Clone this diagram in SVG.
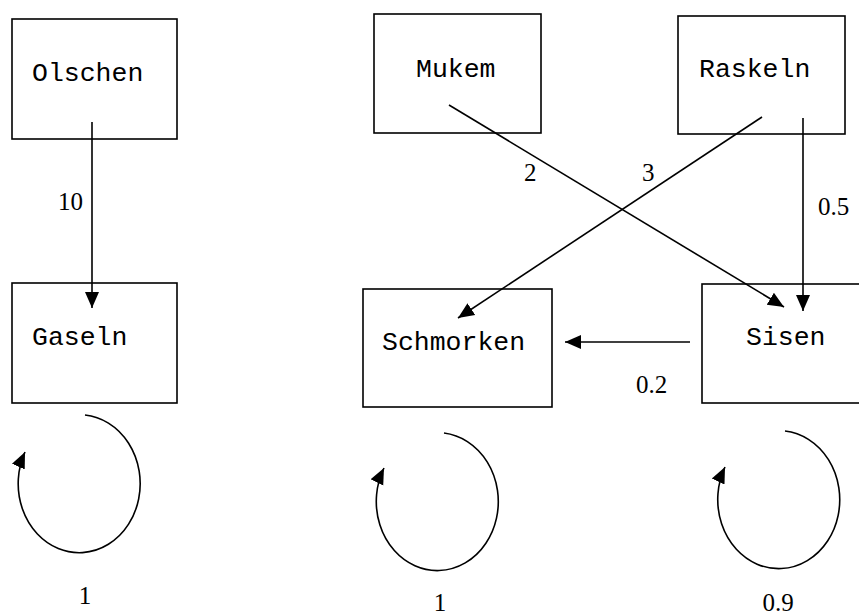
<svg xmlns="http://www.w3.org/2000/svg" width="859" height="615" viewBox="0 0 859 615">
  <style>
    .box { fill: #fff; stroke: #000; stroke-width: 1.6; }
    .name { font-family: "Liberation Mono", "Courier New", monospace; font-size: 26.5px; fill: #000; }
    .num { font-family: "Liberation Serif", "Times New Roman", serif; font-size: 25px; fill: #000; }
    .edge { fill: none; stroke: #000; stroke-width: 1.6; }
  </style>
  <defs>
    <marker id="arrow" markerUnits="userSpaceOnUse" markerWidth="16" markerHeight="16" viewBox="0 0 16 14" refX="16" refY="7" orient="auto">
      <path d="M0,0 L16,7 L0,14 z" fill="#000"/>
    </marker>
  </defs>
  <rect width="859" height="615" fill="#fff"/>

  <g id="node-olschen">
    <rect class="box" x="12" y="19" width="165" height="120"/>
    <text class="name" x="32" y="81">Olschen</text>
  </g>
  <g id="node-gaseln">
    <rect class="box" x="12" y="283" width="165" height="120"/>
    <text class="name" x="32" y="345">Gaseln</text>
  </g>
  <g id="node-mukem">
    <rect class="box" x="374" y="14" width="167" height="119"/>
    <text class="name" x="416" y="77">Mukem</text>
  </g>
  <g id="node-raskeln">
    <rect class="box" x="678" y="16" width="167" height="118"/>
    <text class="name" x="699" y="77">Raskeln</text>
  </g>
  <g id="node-schmorken">
    <rect class="box" x="363" y="289" width="189" height="118"/>
    <text class="name" x="382" y="350">Schmorken</text>
  </g>
  <g id="node-sisen">
    <rect class="box" x="702" y="284" width="170" height="119"/>
    <text class="name" x="746" y="345">Sisen</text>
  </g>

  <g id="connectors">
    <path class="edge" d="M92,122 L92,308" marker-end="url(#arrow)"/>
    <path class="edge" d="M449,105 L784,307" marker-end="url(#arrow)"/>
    <path class="edge" d="M762,117 L458,318" marker-end="url(#arrow)"/>
    <path class="edge" d="M803,118 L803,311" marker-end="url(#arrow)"/>
    <path class="edge" d="M690,342 L565,342" marker-end="url(#arrow)"/>
    <!-- self loops -->
    <path class="edge" d="M85,415 A61,69 0 1,1 25,452" marker-end="url(#arrow)"/>
    <path class="edge" d="M444,433 A61,69 0 1,1 384,468" marker-end="url(#arrow)"/>
    <path class="edge" d="M785,431 A61,69 0 1,1 725,467" marker-end="url(#arrow)"/>

    <text class="num" x="58" y="210">10</text>
    <text class="num" x="524" y="181">2</text>
    <text class="num" x="642" y="181">3</text>
    <text class="num" x="818" y="215">0.5</text>
    <text class="num" x="636" y="393">0.2</text>
    <text class="num" x="85" y="604" text-anchor="middle">1</text>
    <text class="num" x="440" y="611" text-anchor="middle">1</text>
    <text class="num" x="778" y="611" text-anchor="middle">0.9</text>
  </g>
</svg>
